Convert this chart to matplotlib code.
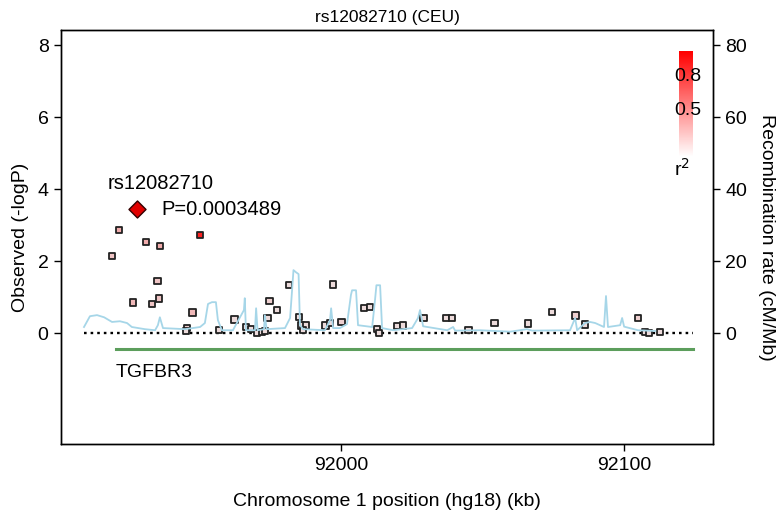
import matplotlib
matplotlib.use("Agg")
import matplotlib.pyplot as plt
import numpy as np
from matplotlib.colors import LinearSegmentedColormap

plt.rcParams['font.family'] = ['Liberation Sans', 'DejaVu Sans']

# ---- data ----
title = "rs12082710 (CEU)"
lead_snp = "rs12082710"
lead_pos = 91927.8
lead_p = 0.0003489

snp_pos = [91921.6, 91919.1, 91931.2, 91936.0, 91950.2, 91935.2, 91935.6, 91926.4,
           91933.3, 91947.5, 91945.7, 91945.2, 91957.0, 91962.4, 91966.5, 91968.2,
           91970.4, 91972.0, 91973.0, 91974.0, 91974.7, 91977.4, 91981.5, 91985.1,
           91985.9, 91987.6, 91986.7, 91994.5, 91996.1, 91997.2, 92000.2, 92008.1,
           92010.2, 92012.8, 92013.3, 92019.7, 92021.8, 92029.1, 92037.1, 92039.2,
           92045.0, 92054.2, 92066.0, 92074.6, 92082.8, 92086.3, 92104.8, 92107.4,
           92108.8, 92112.7]
snp_logp = [2.87, 2.15, 2.53, 2.41, 2.72, 1.45, 0.96, 0.85,
            0.81, 0.57, 0.15, 0.06, 0.08, 0.38, 0.16, 0.11,
            0.00, 0.03, 0.06, 0.42, 0.90, 0.65, 1.33, 0.44,
            0.21, 0.21, 0.08, 0.21, 0.28, 1.35, 0.30, 0.70,
            0.73, 0.11, 0.00, 0.19, 0.21, 0.43, 0.42, 0.42,
            0.08, 0.29, 0.27, 0.59, 0.49, 0.24, 0.41, 0.04,
            0.00, 0.04]
snp_r2 = [0.25, 0.15, 0.25, 0.25, 0.85, 0.15, 0.15, 0.20,
          0.15, 0.20, 0.10, 0.05, 0.05, 0.05, 0.05, 0.05,
          0.05, 0.05, 0.05, 0.05, 0.10, 0.05, 0.05, 0.05,
          0.05, 0.05, 0.05, 0.05, 0.05, 0.05, 0.10, 0.05,
          0.05, 0.05, 0.05, 0.05, 0.05, 0.05, 0.05, 0.05,
          0.05, 0.05, 0.05, 0.05, 0.10, 0.05, 0.10, 0.05,
          0.05, 0.05]

recomb_pos = [91909.2, 91911.3, 91913.8, 91916.3, 91919.1, 91921.9, 91924.4, 91926.1,
              91930.7, 91934.3, 91935.3, 91936.0, 91937.1, 91944.9, 91950.2, 91951.9,
              91953.0, 91954.4, 91955.8, 91956.5, 91957.9, 91961.8, 91965.7, 91966.0,
              91966.4, 91969.6, 91970.0, 91970.5, 91972.8, 91973.1, 91973.7, 91980.2,
              91982.0, 91982.7, 91983.2, 91984.1, 91985.0, 91985.5, 91986.6, 91994.3,
              91996.1, 91996.5, 91997.2, 91999.6, 92002.1, 92003.5, 92003.9, 92005.3,
              92006.0, 92011.0, 92012.0, 92012.5, 92013.8, 92014.5, 92018.4, 92025.1,
              92027.2, 92027.9, 92029.0, 92037.5, 92039.6, 92040.3, 92049.1, 92059.7,
              92065.7, 92067.5, 92080.9, 92082.7, 92083.4, 92086.2, 92088.0, 92089.8,
              92092.9, 92093.6, 92094.3, 92098.6, 92099.3, 92100.0, 92104.9, 92111.0]
recomb_rate = [1.7, 4.7, 5.0, 4.4, 3.1, 3.3, 2.8, 1.7,
               1.1, 0.8, 2.2, 4.4, 1.4, 1.1, 1.7, 2.8,
               8.1, 8.6, 8.6, 3.6, 0.8, 0.8, 6.4, 9.7,
               0.8, 0.8, 6.9, 0.8, 1.1, 5.0, 1.1, 1.4,
               4.2, 11.9, 17.5, 16.9, 16.4, 2.2, 1.1, 0.8,
               3.6, 6.9, 1.4, 1.4, 2.5, 10.6, 11.9, 11.9,
               2.2, 1.7, 9.2, 13.3, 13.3, 1.4, 0.8, 1.4,
               4.2, 6.4, 1.9, 0.8, 1.7, 0.7, 0.8, 0.4,
               1.1, 0.7, 0.8, 4.2, 0.8, 2.8, 3.1, 2.8,
               1.7, 10.3, 1.7, 2.2, 4.2, 1.8, 0.8, 0.6]

gene_name = "TGFBR3"
gene_start, gene_end = 91920.5, 92124.4

legend_labels = ["0.8", "0.5", "r$^2$"]

# ---- figure ----
fig = plt.figure(figsize=(7.83, 5.13), dpi=100)
ax = fig.add_axes([0.078, 0.1345, 0.8326, 0.807])
ax2 = ax.twinx()

XL = (91901.1, 92131.4)
YL = (-3.08, 8.42)
ax.set_xlim(*XL)
ax.set_ylim(*YL)
ax2.set_ylim(YL[0] * 10, YL[1] * 10)

cmap = LinearSegmentedColormap.from_list("r2", ["#ece6e6", "#ff0000"])

# recombination line (right axis)
ax2.plot(recomb_pos, recomb_rate, color="#a6d6e8", lw=1.3, zorder=1)

# dotted baseline
ax.plot([91909.2, 92124.4], [0, 0], color="black", lw=1.7,
        linestyle=(0, (1.1, 1.7)), zorder=2)

# SNPs
ax.scatter(snp_pos, snp_logp, c=[cmap(v) for v in snp_r2], marker="s", s=20,
           edgecolors="#222222", linewidths=1.3, zorder=4)

# lead SNP
lead_y = -np.log10(lead_p)
ax.scatter([lead_pos], [lead_y], marker="D", s=75, color="#e00000",
           edgecolors="#330000", linewidths=1.0, zorder=5)
ax.text(91917.7, 4.17, lead_snp, fontsize=14.5, ha="left", va="center")
ax.text(91936.4, 3.44, f"P={lead_p:.7f}", fontsize=14.5, ha="left", va="center")

# gene
ax.plot([gene_start, gene_end], [-0.44, -0.44], color="#5c9e5c", lw=2.2, zorder=2)
ax.text(gene_start, -1.08, gene_name, fontsize=14, ha="left", va="center")

# r2 legend bar
grad = np.linspace(1, 0, 100).reshape(-1, 1)
ax.imshow(grad, cmap=LinearSegmentedColormap.from_list("lg", ["#ffffff", "#ff0000"]),
          extent=[92119.4, 92124.0, 4.9, 7.83], aspect="auto", zorder=3, vmin=0, vmax=1)
ax.text(92117.6, 7.14, legend_labels[0], fontsize=14, ha="left", va="center", zorder=6)
ax.text(92117.6, 6.19, legend_labels[1], fontsize=14, ha="left", va="center", zorder=6)
ax.text(92117.6, 4.55, legend_labels[2], fontsize=14, ha="left", va="center", zorder=6)
ax.set_xlim(*XL)
ax.set_ylim(*YL)

ax.set_yticks([0, 2, 4, 6, 8])
ax2.set_yticks([0, 20, 40, 60, 80])
ax.set_xticks([92000, 92100])
ax.set_xticklabels(["92000", "92100"])
for a in (ax, ax2):
    a.tick_params(labelsize=14, length=5, width=1, direction="out", pad=4)
    for s in a.spines.values():
        s.set_linewidth(1.0)

ax.set_ylabel("Observed (-logP)", fontsize=14, labelpad=6)
ax2.set_ylabel("Recombination rate (cM/Mb)", fontsize=14, rotation=270, labelpad=20)
ax.set_xlabel("Chromosome 1 position (hg18) (kb)", fontsize=14, labelpad=14)
ax.set_title(title, fontsize=12.5, pad=6)

fig.savefig("out.png", dpi=100)
